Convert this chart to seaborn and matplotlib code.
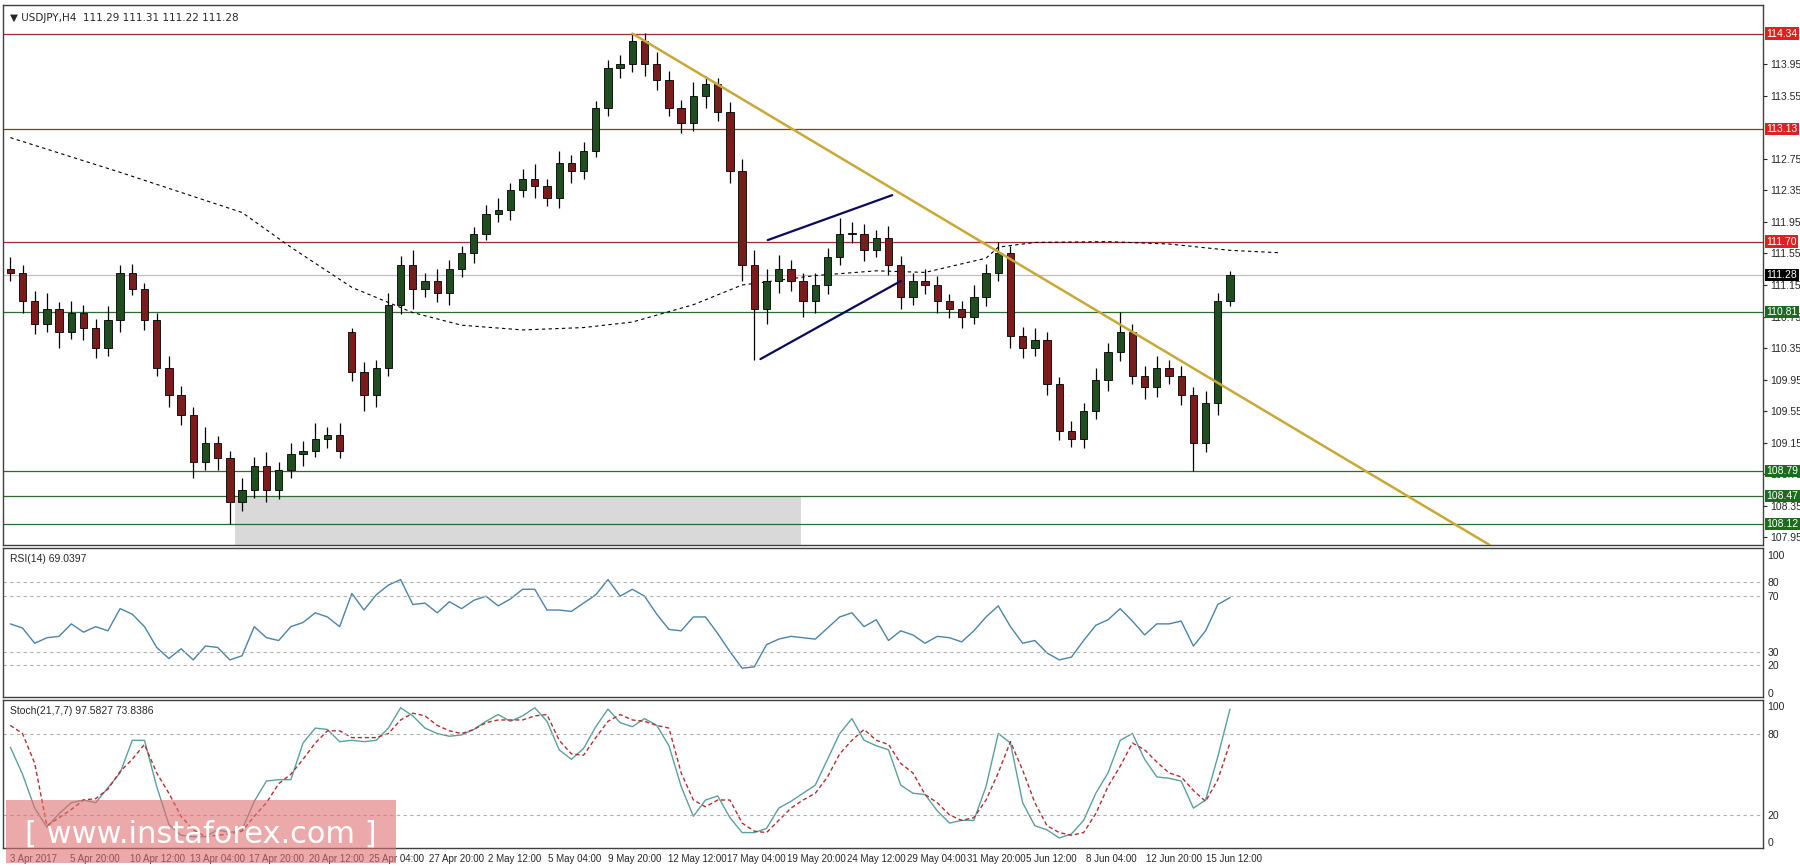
import numpy as np
import pandas as pd
import matplotlib
matplotlib.use("Agg")
import matplotlib.pyplot as plt
from matplotlib.patches import Rectangle
import seaborn as sns

# precios (velas de 12h aprox)
first_open = 111.35
closes = [111.30, 110.95, 110.65, 110.85, 110.55, 110.80, 110.60, 110.35, 110.70, 111.30,
          111.10, 110.70, 110.10, 109.75, 109.50, 108.90, 109.15, 108.95, 108.40, 108.55,
          108.85, 108.55, 108.80, 109.00, 109.05, 109.20, 109.25, 109.05, 110.05, 109.75,
          110.10, 110.90, 111.40, 111.10, 111.20, 111.05, 111.35, 111.55, 111.80, 112.05,
          112.10, 112.35, 112.50, 112.40, 112.25, 112.70, 112.60, 112.85, 113.40, 113.90,
          113.95, 114.25, 113.95, 113.75, 113.40, 113.20, 113.55, 113.70, 113.35, 112.60,
          111.40, 110.85, 111.20, 111.35, 111.20, 110.95, 111.15, 111.50, 111.80, 111.80,
          111.60, 111.75, 111.40, 111.00, 111.20, 111.15, 110.95, 110.85, 110.75, 111.00,
          111.30, 111.55, 110.50, 110.35, 110.45, 109.90, 109.30, 109.20, 109.55, 109.95,
          110.30, 110.55, 110.00, 109.85, 110.10, 110.00, 109.75, 109.15, 109.65, 110.95,
          111.28]
gap_open = {28: 110.55}
upper_wick = [0.15, 0.10, 0.12, 0.20, 0.08, 0.15, 0.10, 0.12, 0.18, 0.10,
              0.12, 0.08, 0.10, 0.15, 0.12, 0.10, 0.20, 0.08, 0.10, 0.15,
              0.12, 0.18, 0.10, 0.15, 0.12, 0.20, 0.10, 0.15, 0.05, 0.12,
              0.10, 0.15, 0.12, 0.20, 0.10, 0.15, 0.12, 0.10, 0.08, 0.12,
              0.15, 0.10, 0.12, 0.18, 0.10, 0.15, 0.10, 0.12, 0.08, 0.10,
              0.12, 0.09, 0.10, 0.15, 0.12, 0.10, 0.18, 0.10, 0.08, 0.12,
              0.15, 0.20, 0.15, 0.18, 0.12, 0.10, 0.15, 0.12, 0.20, 0.15,
              0.12, 0.10, 0.15, 0.12, 0.10, 0.15, 0.12, 0.08, 0.10, 0.15,
              0.12, 0.15, 0.10, 0.12, 0.15, 0.10, 0.08, 0.12, 0.10, 0.15,
              0.12, 0.26, 0.10, 0.12, 0.15, 0.10, 0.12, 0.10, 0.15, 0.10,
              0.05]
lower_wick = [0.10, 0.15, 0.12, 0.10, 0.20, 0.08, 0.15, 0.12, 0.10, 0.15,
              0.08, 0.12, 0.10, 0.15, 0.12, 0.20, 0.10, 0.15, 0.28, 0.12,
              0.10, 0.15, 0.12, 0.10, 0.15, 0.08, 0.12, 0.10, 0.12, 0.20,
              0.15, 0.10, 0.12, 0.25, 0.10, 0.12, 0.15, 0.10, 0.12, 0.08,
              0.10, 0.12, 0.08, 0.15, 0.10, 0.12, 0.15, 0.10, 0.08, 0.10,
              0.12, 0.10, 0.15, 0.12, 0.10, 0.12, 0.10, 0.15, 0.12, 0.15,
              0.20, 0.65, 0.20, 0.15, 0.12, 0.20, 0.15, 0.12, 0.10, 0.12,
              0.15, 0.10, 0.12, 0.15, 0.10, 0.12, 0.15, 0.12, 0.15, 0.10,
              0.12, 0.10, 0.15, 0.12, 0.10, 0.15, 0.12, 0.10, 0.12, 0.10,
              0.15, 0.12, 0.10, 0.15, 0.12, 0.10, 0.12, 0.36, 0.12, 0.15,
              0.06]

ma_idx = [0, 9, 19, 23, 28, 33, 37, 42, 47, 51, 56, 60, 66, 71, 75, 80, 81, 84, 90, 95, 100, 104]
ma_val = [113.02, 112.58, 112.07, 111.63, 111.12, 110.80, 110.64, 110.58, 110.61, 110.68,
          110.90, 111.15, 111.27, 111.33, 111.31, 111.49, 111.63, 111.69, 111.70, 111.67,
          111.59, 111.56]

rsi = [50, 47, 36, 40, 41, 50, 44, 48, 45, 61, 57, 48, 33, 25, 32, 24, 34, 33, 24, 27,
       48, 40, 38, 48, 51, 58, 55, 48, 72, 60, 71, 78, 82, 64, 65, 58, 66, 61, 67, 70,
       63, 68, 75, 75, 60, 60, 59, 65, 71, 82, 70, 75, 70, 57, 46, 45, 55, 55, 43, 30,
       18, 19, 35, 39, 41, 40, 39, 47, 55, 58, 48, 53, 38, 45, 42, 36, 41, 40, 37, 45,
       55, 63, 48, 36, 38, 29, 24, 26, 38, 49, 53, 61, 52, 42, 50, 50, 52, 34, 45, 64, 69]
stoch_k = [70, 50, 25, 11, 21, 29, 31, 29, 40, 51, 75, 75, 41, 13, 5, 4, 4, 9, 7, 9,
           30, 45, 46, 46, 73, 84, 83, 74, 75, 74, 75, 84, 99, 93, 84, 80, 78, 79, 83, 89,
           94, 89, 93, 99, 89, 68, 61, 69, 85, 98, 88, 85, 91, 86, 71, 41, 19, 31, 34, 18,
           7, 7, 10, 25, 30, 36, 42, 61, 80, 91, 75, 71, 68, 42, 36, 35, 23, 14, 16, 16,
           41, 80, 73, 29, 12, 9, 3, 6, 16, 36, 51, 75, 80, 61, 48, 47, 45, 25, 31, 63, 98]
stoch_d = [86, 80, 58, 12, 18, 24, 31, 32, 39, 52, 61, 72, 51, 36, 19, 9, 4, 5, 6, 8,
           19, 29, 43, 50, 61, 73, 82, 82, 77, 77, 77, 80, 90, 95, 93, 86, 82, 80, 83, 88,
           90, 90, 90, 93, 94, 75, 65, 64, 77, 89, 94, 90, 89, 86, 84, 51, 31, 26, 31, 31,
           14, 8, 7, 16, 25, 31, 36, 48, 65, 75, 83, 75, 72, 58, 51, 35, 29, 20, 16, 18,
           31, 51, 74, 53, 29, 12, 7, 5, 7, 21, 41, 56, 73, 68, 59, 51, 48, 38, 30, 46, 73]

red_levels = [114.34, 113.13, 111.70]
green_levels = [110.81, 108.79, 108.47, 108.12]
last_price = 111.28
price_ticks = [113.95, 113.55, 112.75, 112.35, 111.95, 111.55, 111.15, 110.75, 110.35,
               109.95, 109.55, 109.15, 108.75, 108.35, 107.95]
trend_x = [51, 121.3]
trend_y = [114.34, 107.85]
wedge_up_x, wedge_up_y = [62.1, 72.3], [111.72, 112.29]
wedge_lo_x, wedge_lo_y = [61.5, 73.0], [110.21, 111.20]
zone_x, zone_y = [18.4, 64.8], [107.85, 108.47]

date_labels = ["3 Apr 2017", "5 Apr 20:00", "10 Apr 12:00", "13 Apr 04:00", "17 Apr 20:00",
               "20 Apr 12:00", "25 Apr 04:00", "27 Apr 20:00", "2 May 12:00", "5 May 04:00",
               "9 May 20:00", "12 May 12:00", "17 May 04:00", "19 May 20:00", "24 May 12:00",
               "29 May 04:00", "31 May 20:00", "5 Jun 12:00", "8 Jun 04:00", "12 Jun 20:00",
               "15 Jun 12:00"]
date_pos = [0.0, 4.9, 9.8, 14.7, 19.6, 24.5, 29.4, 34.3, 39.2, 44.1, 49.0, 53.9, 58.8,
            63.7, 68.6, 73.5, 78.4, 83.3, 88.2, 93.1, 98.0]

sns.set_style("white")
plt.rcParams["font.family"] = ["Liberation Sans", "DejaVu Sans"]
FS = 7.5

XMIN, XMAX = -0.6, 143.7
fig = plt.figure(figsize=(18, 8.68), dpi=100)
ax = fig.add_axes([3 / 1800, 0.372, 1760 / 1800, 0.622])
ax_rsi = fig.add_axes([3 / 1800, 0.197, 1760 / 1800, 0.172])
ax_st = fig.add_axes([3 / 1800, 0.023, 1760 / 1800, 0.171])

# velas
n = len(closes)
opens = [first_open] + closes[:-1]
for k, v in gap_open.items():
    opens[k] = v
for i in range(n):
    o, c = opens[i], closes[i]
    hi = max(o, c) + upper_wick[i]
    lo = min(o, c) - lower_wick[i]
    col = "#1f4d1f" if c >= o else "#7a1c1c"
    ax.vlines(i, lo, hi, color="black", lw=0.9, zorder=3)
    ax.add_patch(Rectangle((i - 0.3, min(o, c)), 0.6, max(abs(c - o), 0.01),
                           facecolor=col, edgecolor="black", lw=0.6, zorder=4))

ax.add_patch(Rectangle((zone_x[0], zone_y[0]), zone_x[1] - zone_x[0], zone_y[1] - zone_y[0],
                       facecolor="#d9d9d9", edgecolor="none", zorder=1))
for lv in red_levels:
    ax.axhline(lv, color="#a52a2a", lw=0.9, zorder=2)
for lv in green_levels:
    ax.axhline(lv, color="#2e6b2e", lw=0.9, zorder=2)
ax.axhline(last_price, color="#c0c0c0", lw=0.9, zorder=2)

sns.lineplot(x=ma_idx, y=ma_val, ax=ax, color="black", lw=0.8, linestyle=(0, (3, 3)), zorder=2)
ax.plot(trend_x, trend_y, color="#c8a838", lw=1.8, zorder=5)
ax.plot(wedge_up_x, wedge_up_y, color="#0a0a5a", lw=1.6, zorder=5)
ax.plot(wedge_lo_x, wedge_lo_y, color="#0a0a5a", lw=1.6, zorder=5)

ax.set_xlim(XMIN, XMAX)
ax.set_ylim(107.85, 114.70)
ax.yaxis.tick_right()
ax.set_yticks(price_ticks)
ax.tick_params(axis="y", labelsize=FS, length=3, pad=2)
ax.set_xticks([])


def level_tag(lv, fc):
    ax.text(1.002, lv, f"{lv:.2f}", transform=ax.get_yaxis_transform(), fontsize=FS,
            color="white", va="center", ha="left",
            bbox=dict(boxstyle="square,pad=0.12", fc=fc, ec="none"), zorder=10)


for lv in red_levels:
    level_tag(lv, "#e02020")
for lv in green_levels:
    level_tag(lv, "#1e6a1e")
level_tag(last_price, "black")
ax.text(0.004, 0.985, "\u25bc USDJPY,H4  111.29 111.31 111.22 111.28", transform=ax.transAxes,
        fontsize=FS, va="top", family=["DejaVu Sans"])

# RSI
x = np.arange(n)
sns.lineplot(x=x, y=rsi, ax=ax_rsi, color="#4a84a8", lw=1.0)
for lv in [80, 70, 30, 20]:
    ax_rsi.axhline(lv, color="#b0b0b0", lw=0.8, linestyle=(0, (3, 3)))
ax_rsi.set_xlim(XMIN, XMAX)
ax_rsi.set_ylim(-2.8, 105)
ax_rsi.yaxis.tick_right()
ax_rsi.set_yticks([100, 80, 70, 30, 20, 0])
ax_rsi.tick_params(axis="y", labelsize=FS, length=0, pad=3)
ax_rsi.set_xticks([])
ax_rsi.text(0.004, 0.96, "RSI(14) 69.0397", transform=ax_rsi.transAxes, fontsize=FS, va="top")

# Estocastico
sns.lineplot(x=x, y=stoch_k, ax=ax_st, color="#5c9fa0", lw=1.0)
sns.lineplot(x=x, y=stoch_d, ax=ax_st, color="#b03030", lw=1.0, linestyle=(0, (3, 2)))
for lv in [80, 20]:
    ax_st.axhline(lv, color="#b0b0b0", lw=0.8, linestyle=(0, (3, 3)))
ax_st.set_xlim(XMIN, XMAX)
ax_st.set_ylim(-4.4, 105)
ax_st.yaxis.tick_right()
ax_st.set_yticks([100, 80, 20, 0])
ax_st.tick_params(axis="y", labelsize=FS, length=0, pad=3)
ax_st.set_xticks(date_pos)
ax_st.set_xticklabels(date_labels, ha="left", fontsize=7)
ax_st.tick_params(axis="x", length=3, pad=1)
ax_st.text(0.004, 0.96, "Stoch(21,7,7) 97.5827 73.8386", transform=ax_st.transAxes, fontsize=FS, va="top")

for a in (ax, ax_rsi, ax_st):
    for s in a.spines.values():
        s.set_color("#404040")
        s.set_linewidth(1.0)
    a.set_xlabel("")
    a.set_ylabel("")

# marca de agua
fig.patches.append(Rectangle((6 / 1800, 5 / 868), 390 / 1800, 63 / 868, transform=fig.transFigure,
                             facecolor="#e07070", alpha=0.6, edgecolor="none", zorder=20))
fig.text(201 / 1800, 34 / 868, "[ www.instaforex.com ]", color="white", fontsize=22,
         ha="center", va="center", zorder=21, family=["Liberation Sans Narrow", "DejaVu Sans"])

fig.savefig("out.png", dpi=100)
